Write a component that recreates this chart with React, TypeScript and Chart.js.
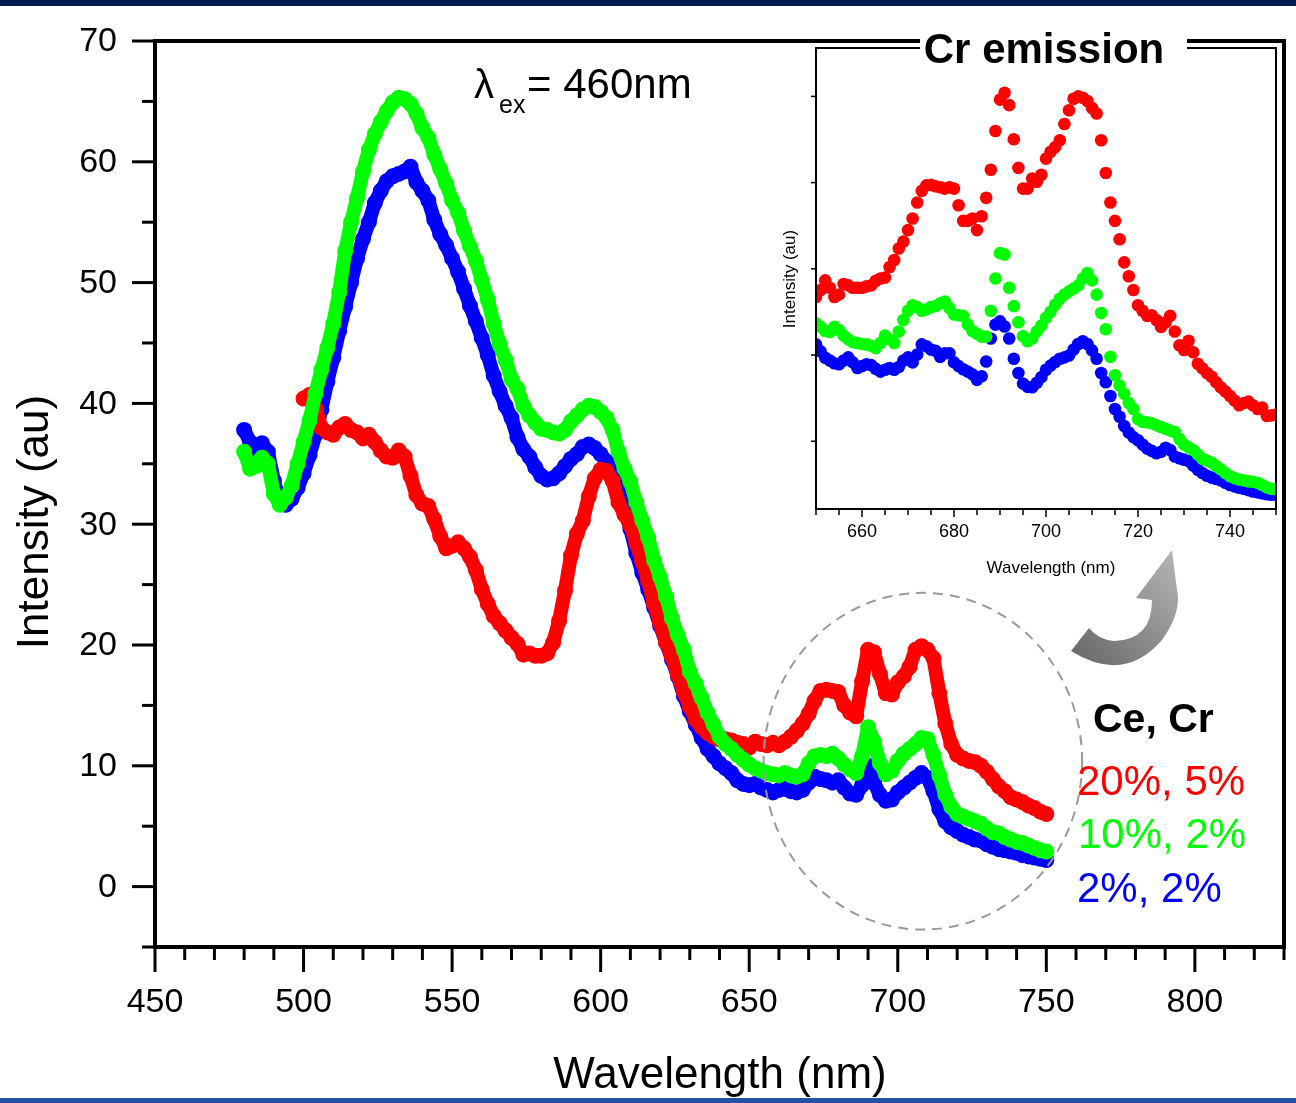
import React, { useEffect, useRef } from 'react';
import { Chart, registerables } from 'chart.js';

Chart.register(...registerables);

// ---------- main spectrum data (wavelength in nm, intensity in au) ----------
const WAVELENGTH = [
  480, 482, 484, 486, 488, 490, 492, 494, 496, 498,
  500, 502, 504, 506, 508, 510, 512, 514, 516, 518,
  520, 522, 524, 526, 528, 530, 532, 534, 536, 538,
  540, 542, 544, 546, 548, 550, 552, 554, 556, 558,
  560, 562, 564, 566, 568, 570, 572, 574, 576, 578,
  580, 582, 584, 586, 588, 590, 592, 594, 596, 598,
  600, 602, 604, 606, 608, 610, 612, 614, 616, 618,
  620, 622, 624, 626, 628, 630, 632, 634, 636, 638,
  640, 642, 644, 646, 648, 650, 652, 654, 656, 658,
  660, 662, 664, 666, 668, 670, 672, 674, 676, 678,
  680, 682, 684, 686, 688, 690, 692, 694, 696, 698,
  700, 702, 704, 706, 708, 710, 712, 714, 716, 718,
  720, 722, 724, 726, 728, 730, 732, 734, 736, 738,
  740, 742, 744, 746, 748, 750,
];

// Ce 2%, Cr 2%
const BLUE = [
  37.8, 36.8, 36.2, 36.7, 36.0, 33.6, 31.8, 31.6, 32.1, 33.0,
  34.2, 35.7, 37.4, 39.5, 41.8, 43.8, 46.0, 48.0, 50.0, 52.0,
  53.6, 55.0, 56.6, 57.6, 58.4, 58.8, 59.0, 59.2, 59.6, 58.3,
  57.6, 56.8, 55.2, 54.0, 53.1, 52.0, 50.9, 49.5, 48.1, 46.8,
  45.4, 44.0, 42.3, 41.0, 39.8, 38.8, 37.2, 36.2, 35.6, 34.7,
  34.0, 33.7, 33.8, 34.2, 34.8, 35.4, 35.8, 36.4, 36.6, 36.3,
  35.8, 35.2, 34.2, 32.8, 31.2, 29.6, 27.6, 26.0, 24.6, 23.1,
  21.6, 20.2, 18.8, 17.4, 15.8, 14.5, 13.4, 12.3, 11.4, 10.8,
  10.2, 9.8, 9.4, 8.8, 8.5, 8.4, 8.5, 8.2, 8.0, 7.8,
  8.0, 8.1, 7.9, 7.8, 8.0, 8.6, 9.1, 8.9, 8.8, 8.6,
  8.8, 8.2, 7.7, 7.6, 8.4, 10.0, 8.6, 7.6, 7.1, 7.2,
  7.8, 8.2, 8.6, 9.0, 9.4, 9.0, 7.9, 6.4, 5.4, 4.9,
  4.6, 4.3, 4.1, 3.9, 3.8, 3.5, 3.3, 3.1, 3.0, 2.9,
  2.8, 2.6, 2.5, 2.4, 2.3, 2.2,
];

// Ce 10%, Cr 2%
const GREEN = [
  36.0, 34.6, 34.8, 35.5, 35.0, 32.5, 31.6, 32.2, 33.2, 35.0,
  36.8, 38.6, 40.8, 42.8, 44.6, 46.6, 49.2, 52.6, 55.0, 57.0,
  59.2, 61.0, 62.3, 63.3, 64.2, 64.9, 65.3, 65.2, 64.8, 64.0,
  62.8, 62.0, 60.6, 59.4, 58.2, 56.8, 55.8, 54.3, 53.0, 51.8,
  50.2, 48.6, 46.6, 44.9, 43.6, 42.0, 41.2, 39.8, 39.0, 38.4,
  37.9, 37.8, 37.6, 37.5, 37.8, 38.5, 39.0, 39.5, 39.8, 39.7,
  39.3, 38.8, 37.8, 36.0, 34.6, 33.5, 31.8, 30.3, 28.9, 27.0,
  25.6, 24.0, 22.2, 20.8, 19.6, 17.8, 16.8, 15.6, 14.4, 13.4,
  12.4, 11.8, 11.4, 10.9, 10.5, 10.1, 9.8, 9.6, 9.4, 9.3,
  9.2, 9.4, 9.2, 9.1, 9.3, 10.2, 10.8, 10.9, 10.8, 11.0,
  10.6, 10.1, 9.7, 9.4, 10.8, 13.2, 12.0, 10.2, 9.3, 9.6,
  10.4, 11.0, 11.4, 11.8, 12.3, 12.2, 10.9, 9.2, 7.6, 6.6,
  6.0, 5.8, 5.6, 5.4, 5.2, 4.8, 4.5, 4.4, 4.1, 3.9,
  3.7, 3.6, 3.4, 3.2, 3.0, 2.9,
];

// Ce 20%, Cr 5% (no data below 500 nm)
const RED = [
  null, null, null, null, null, null, null, null, null, null,
  40.4, 40.7, 39.6, 38.0, 37.6, 37.4, 38.0, 38.3, 37.8, 37.6,
  37.1, 37.4, 36.8, 36.1, 35.6, 35.5, 36.1, 35.6, 34.0, 32.4,
  31.7, 31.5, 30.4, 29.0, 28.0, 28.2, 28.5, 28.0, 27.3, 26.2,
  24.6, 23.4, 22.4, 21.8, 21.2, 20.6, 20.1, 19.2, 19.3, 19.1,
  19.1, 19.3, 20.2, 22.0, 24.5, 27.4, 29.2, 30.3, 32.3, 33.8,
  34.5, 34.4, 33.6, 31.8, 30.8, 29.9, 28.4, 26.9, 25.3, 23.4,
  21.8, 20.2, 19.0, 17.5, 16.1, 14.9, 13.8, 13.2, 12.7, 12.4,
  12.2, 12.2, 12.1, 11.9, 11.8, 11.5, 12.0, 11.8, 11.7, 11.9,
  11.7, 12.0, 12.4, 12.9, 13.5, 14.3, 15.4, 16.2, 16.3, 16.2,
  16.1, 15.0, 14.4, 14.1, 17.0, 19.6, 19.4, 17.6, 16.0, 15.9,
  16.9, 17.4, 18.2, 19.6, 19.9, 19.6, 18.9, 16.0, 13.5, 11.8,
  10.9, 10.6, 10.4, 10.3, 10.0, 9.5, 8.9, 8.3, 7.9, 7.4,
  7.2, 7.0, 6.7, 6.5, 6.2, 6.0,
];

// ---------- inset (Cr emission) data, arbitrary units ----------
const INSET_WAVELENGTH = [
  650, 651, 652, 653, 654, 655, 656, 657, 658, 659,
  660, 661, 662, 663, 664, 665, 666, 667, 668, 669,
  670, 671, 672, 673, 674, 675, 676, 677, 678, 679,
  680, 681, 682, 683, 684, 685, 686, 687, 688, 689,
  690, 691, 692, 693, 694, 695, 696, 697, 698, 699,
  700, 701, 702, 703, 704, 705, 706, 707, 708, 709,
  710, 711, 712, 713, 714, 715, 716, 717, 718, 719,
  720, 721, 722, 723, 724, 725, 726, 727, 728, 729,
  730, 731, 732, 733, 734, 735, 736, 737, 738, 739,
  740, 741, 742, 743, 744, 745, 746, 747, 748, 749,
  750,
];

const INSET_RED = [
  46, 47.5, 49.6, 48, 46, 46.5, 48.8, 48.5, 48, 48,
  48, 48.3, 48.5, 49.5, 50, 50.2, 52.5, 54, 56.5, 58,
  60.5, 63, 66.5, 69, 70.2, 70.3, 70, 69.8, 69.5, 69.8,
  69.5, 65.9, 62.5, 62.5, 63, 60.5, 63.5, 67.5, 73.6, 82,
  88.8, 90.3, 87.6, 80.2, 74, 69.5, 69.5, 71.7, 71, 72.5,
  76, 77.5, 78.5, 80, 83.5, 86.5, 89, 89.5, 89.2, 88.5,
  87, 85.8, 80, 72.9, 66.5, 62.5, 58.5, 53.5, 50.5, 47.5,
  44.2, 43, 41.9, 42, 41, 39.5, 40.5, 41.9, 38.5, 35.5,
  34.5, 36.5, 34, 31.5, 30.5, 29.5, 28.7, 27.5, 26.4, 25.5,
  24.5, 23.5, 22.5, 23, 23.3, 22.5, 21.7, 22, 20.2, 20.3,
  20.5,
];

const INSET_GREEN = [
  40.3, 39.5, 38.6, 38.4, 39.5, 38.8, 37.6, 36.8, 36.2, 36,
  35.8, 35.7, 35.4, 34.9, 36, 37.6, 36.8, 36, 38.5, 41,
  43, 44.2, 43.8, 43, 43.3, 43.8, 44, 44.6, 45, 43.6,
  42.2, 42, 41.9, 40, 38.6, 38, 37.4, 37.4, 43, 50,
  55.5, 55.2, 48, 44, 40.5, 37.5, 36.4, 37, 38.5, 39.8,
  41.5, 42.8, 44.3, 45.6, 46.5, 47.2, 47.8, 48.5, 50, 51.2,
  49.6, 46.5, 42.5, 39, 33, 29, 26.8, 25, 23, 21.7,
  19.5, 18.9, 18.8, 18.6, 18.2, 17.8, 17.4, 17, 16.7, 15.2,
  14, 13.4, 12.8, 11.8, 10.9, 10.5, 10.1, 9.3, 8.6, 7.8,
  7.1, 6.7, 6.4, 6.2, 6, 5.9, 5.7, 5.2, 4.7, 4.4,
  4.3,
];

const INSET_BLUE = [
  35.7, 34.2, 32.8, 32.2, 31.6, 31.4, 32.2, 32.9, 31.8, 30.6,
  31, 31.4, 31.2, 30.4, 29.8, 30.2, 30.6, 30.2, 30.8, 32.2,
  32.9, 31.8, 33.5, 35.7, 35.3, 34.6, 34.3, 33, 33.8, 33.8,
  31.8, 31, 30.3, 29.8, 29.2, 28, 28.8, 32, 37, 40,
  40.7, 39.6, 37, 32.6, 29.5, 27.2, 26.5, 26.4, 27.4, 28.6,
  30.2, 31.1, 31.9, 32.6, 32.9, 33.3, 34.6, 35.8, 36.4, 35.8,
  34.4, 32.6, 29.5, 27.5, 24.5, 21.7, 20, 18, 16.6, 15.6,
  14.9, 14, 13.1, 12.6, 12.1, 12.4, 13.3, 12.8, 11.4, 11,
  10.7, 10.4, 9.4, 8.5, 7.8, 7.2, 6.8, 6.5, 6.2, 5.7,
  5.2, 4.9, 4.6, 4.4, 4.1, 3.8, 3.6, 3.4, 3.2, 3.1,
  3.1,
];

// ---------- ticks & labels ----------
const X_LABELS = [450, 500, 550, 600, 650, 700, 750, 800];
const X_TICKS = [
  450, 460, 470, 480, 490, 500, 510, 520, 530, 540, 550, 560, 570, 580, 590,
  600, 610, 620, 630, 640, 650, 660, 670, 680, 690, 700, 710, 720, 730, 740,
  750, 760, 770, 780, 790, 800, 810, 820, 830,
];
const Y_LABELS = [0, 10, 20, 30, 40, 50, 60, 70];
const Y_MINOR = [-5, 5, 15, 25, 35, 45, 55, 65];
const INSET_X_LABELS = [660, 680, 700, 720, 740];
const INSET_X_TICKS = [
  650, 655, 660, 665, 670, 675, 680, 685, 690, 695, 700, 705, 710, 715, 720,
  725, 730, 735, 740, 745, 750,
];
const INSET_Y_TICKS = [14.7, 33.4, 52.1, 70.8, 89.5];

const SERIES_LABELS = ['20%, 5%', '10%, 2%', '2%, 2%'];
const COLORS = { red: '#ff0000', green: '#00ff00', blue: '#0000ff' };

const FONT = '"Liberation Sans", Arial, Helvetica, sans-serif';

const W = 1296;
const H = 1103;
const INSET_LEFT = 760;
const INSET_TOP = 20;
const INSET_W = 536;
const INSET_H = 580;

function toPoints(xs: number[], ys: (number | null)[]) {
  const out: { x: number; y: number }[] = [];
  xs.forEach((x, i) => {
    const y = ys[i];
    if (y !== null && y !== undefined) out.push({ x, y });
  });
  return out;
}

function line(ctx: CanvasRenderingContext2D, x1: number, y1: number, x2: number, y2: number) {
  ctx.beginPath();
  ctx.moveTo(x1, y1);
  ctx.lineTo(x2, y2);
  ctx.stroke();
}

const mainDecor = {
  id: 'mainDecor',
  beforeDraw(chart: any) {
    const { ctx, width, height } = chart;
    ctx.save();
    ctx.fillStyle = '#ffffff';
    ctx.fillRect(0, 0, width, height);
    ctx.fillStyle = '#001b50';
    ctx.fillRect(0, 0, width, 6);
    ctx.fillStyle = '#2352a0';
    ctx.fillRect(0, height - 5, width, 5);
    ctx.restore();
  },
  afterDatasetsDraw(chart: any) {
    const { ctx, chartArea: a } = chart;
    const xs = chart.scales.x;
    const ys = chart.scales.y;
    ctx.save();

    // dashed ellipse around the Cr emission region
    const cx = xs.getPixelForValue(708.45);
    const cy = ys.getPixelForValue(10.38);
    const rx = xs.getPixelForValue(708.45 + 53.6) - cx;
    const ry = cy - ys.getPixelForValue(10.38 + 13.94);
    ctx.strokeStyle = '#9a9a9a';
    ctx.lineWidth = 2;
    ctx.setLineDash([10, 7]);
    ctx.beginPath();
    ctx.ellipse(cx, cy, rx, ry, 0, 0, Math.PI * 2);
    ctx.stroke();
    ctx.setLineDash([]);

    // curved arrow pointing to the inset
    const grad = ctx.createLinearGradient(1071, 655, 1172, 551);
    grad.addColorStop(0, '#6a6a6a');
    grad.addColorStop(1, '#b4b4b4');
    ctx.fillStyle = grad;
    ctx.beginPath();
    ctx.moveTo(1071, 651);
    ctx.quadraticCurveTo(1124, 684, 1162, 640);
    ctx.quadraticCurveTo(1182, 612, 1177, 590);
    ctx.lineTo(1172, 550);
    ctx.lineTo(1136, 598);
    ctx.lineTo(1152, 600);
    ctx.quadraticCurveTo(1152, 640, 1114, 641);
    ctx.quadraticCurveTo(1099, 640, 1089, 628);
    ctx.closePath();
    ctx.fill();

    // frame
    ctx.strokeStyle = '#000';
    ctx.lineWidth = 4;
    ctx.strokeRect(a.left, a.top, a.right - a.left, a.bottom - a.top);

    // x ticks
    ctx.lineWidth = 3;
    X_TICKS.forEach((v) => {
      const px = xs.getPixelForValue(v);
      const len = X_LABELS.includes(v) ? 25 : 13;
      line(ctx, px, a.bottom, px, a.bottom + len);
    });
    // y ticks
    Y_LABELS.forEach((v) => {
      const py = ys.getPixelForValue(v);
      line(ctx, a.left, py, a.left - 23, py);
    });
    Y_MINOR.forEach((v) => {
      const py = ys.getPixelForValue(v);
      line(ctx, a.left, py, a.left - 13, py);
    });

    // tick labels
    ctx.fillStyle = '#000';
    ctx.font = `34px ${FONT}`;
    ctx.textAlign = 'center';
    ctx.textBaseline = 'middle';
    X_LABELS.forEach((v) => {
      ctx.fillText(String(v), xs.getPixelForValue(v), a.bottom + 56);
    });
    ctx.textAlign = 'right';
    Y_LABELS.forEach((v) => {
      ctx.fillText(String(v), a.left - 38, ys.getPixelForValue(v) + 1);
    });

    // axis titles
    ctx.font = `44px ${FONT}`;
    ctx.textAlign = 'center';
    ctx.textBaseline = 'alphabetic';
    ctx.fillText('Wavelength (nm)', 720, 1088);
    ctx.save();
    ctx.translate(48, 522);
    ctx.rotate(-Math.PI / 2);
    ctx.fillText('Intensity (au)', 0, 0);
    ctx.restore();

    // excitation wavelength
    ctx.textAlign = 'left';
    ctx.font = `40px ${FONT}`;
    ctx.fillText('\u03bb', 474, 98);
    ctx.font = `25px ${FONT}`;
    ctx.fillText('ex', 499, 113);
    ctx.font = `42px ${FONT}`;
    ctx.fillText('= 460nm', 527, 98);

    // legend text
    ctx.font = `bold 41px ${FONT}`;
    ctx.fillText('Ce, Cr', 1093, 732);
    ctx.font = `42px ${FONT}`;
    ctx.fillStyle = COLORS.red;
    ctx.fillText(SERIES_LABELS[0], 1077, 795);
    ctx.fillStyle = COLORS.green;
    ctx.fillText(SERIES_LABELS[1], 1078, 848);
    ctx.fillStyle = COLORS.blue;
    ctx.fillText(SERIES_LABELS[2], 1077, 902);

    ctx.restore();
  },
};

const insetDecor = {
  id: 'insetDecor',
  afterDatasetsDraw(chart: any) {
    const { ctx, chartArea: a } = chart;
    const xs = chart.scales.x;
    const ys = chart.scales.y;
    ctx.save();
    ctx.strokeStyle = '#000';
    ctx.lineWidth = 2;
    ctx.strokeRect(a.left, a.top, a.right - a.left, a.bottom - a.top);

    ctx.lineWidth = 1.5;
    INSET_X_TICKS.forEach((v) => {
      const px = xs.getPixelForValue(v);
      const len = INSET_X_LABELS.includes(v) ? 8 : 6;
      line(ctx, px, a.bottom, px, a.bottom + len);
    });
    INSET_Y_TICKS.forEach((v) => {
      const py = ys.getPixelForValue(v);
      line(ctx, a.left, py, a.left - 5, py);
    });

    ctx.fillStyle = '#000';
    ctx.font = `18px ${FONT}`;
    ctx.textAlign = 'center';
    ctx.textBaseline = 'middle';
    INSET_X_LABELS.forEach((v) => {
      ctx.fillText(String(v), xs.getPixelForValue(v), a.bottom + 23);
    });
    ctx.font = `17px ${FONT}`;
    ctx.fillText('Wavelength (nm)', 1051 - INSET_LEFT, 568 - INSET_TOP);
    ctx.save();
    ctx.translate(790 - INSET_LEFT, 279 - INSET_TOP);
    ctx.rotate(-Math.PI / 2);
    ctx.font = `17px ${FONT}`;
    ctx.fillText('Intensity (au)', 0, 0);
    ctx.restore();

    // title with white knock-out over the frame lines
    ctx.fillStyle = '#ffffff';
    ctx.fillRect(920 - INSET_LEFT, 30 - INSET_TOP, 267, 24);
    ctx.fillStyle = '#000';
    ctx.font = `bold 42px ${FONT}`;
    ctx.textBaseline = 'alphabetic';
    ctx.fillText('Cr emission', 1044 - INSET_LEFT, 63 - INSET_TOP);
    ctx.restore();
  },
};

function mainDataset(ys: (number | null)[], color: string) {
  return {
    data: toPoints(WAVELENGTH, ys),
    showLine: true,
    borderColor: color,
    backgroundColor: color,
    borderWidth: 14,
    borderJoinStyle: 'round' as const,
    borderCapStyle: 'round' as const,
    pointRadius: 8,
    pointHoverRadius: 8,
    pointBorderWidth: 0,
    tension: 0,
    clip: false as const,
  };
}

function insetDataset(ys: number[], color: string) {
  return {
    data: toPoints(INSET_WAVELENGTH, ys),
    showLine: false,
    borderColor: color,
    backgroundColor: color,
    pointRadius: 6.3,
    pointHoverRadius: 6.3,
    pointBorderWidth: 0,
    clip: 0,
  };
}

export default function App() {
  const mainRef = useRef<HTMLCanvasElement | null>(null);
  const insetRef = useRef<HTMLCanvasElement | null>(null);

  useEffect(() => {
    document.body.style.margin = '0';
    if (!mainRef.current || !insetRef.current) return;

    const main = new Chart(mainRef.current, {
      type: 'scatter',
      data: {
        datasets: [
          mainDataset(GREEN, COLORS.green),
          mainDataset(RED, COLORS.red),
          mainDataset(BLUE, COLORS.blue),
        ] as any,
      },
      options: {
        responsive: false,
        maintainAspectRatio: false,
        animation: false,
        events: [],
        layout: { padding: { left: 155, right: 12, top: 41, bottom: 156 } },
        plugins: { legend: { display: false }, tooltip: { enabled: false } },
        scales: {
          x: { type: 'linear', min: 450, max: 830, display: false },
          y: { type: 'linear', min: -5, max: 70, display: false },
        },
      },
      plugins: [mainDecor],
    });

    const inset = new Chart(insetRef.current, {
      type: 'scatter',
      data: {
        datasets: [
          insetDataset(INSET_GREEN, COLORS.green),
          insetDataset(INSET_RED, COLORS.red),
          insetDataset(INSET_BLUE, COLORS.blue),
        ] as any,
      },
      options: {
        responsive: false,
        maintainAspectRatio: false,
        animation: false,
        events: [],
        layout: {
          padding: {
            left: 816 - INSET_LEFT,
            right: INSET_LEFT + INSET_W - 1276,
            top: 48 - INSET_TOP,
            bottom: INSET_TOP + INSET_H - 509,
          },
        },
        plugins: { legend: { display: false }, tooltip: { enabled: false } },
        scales: {
          x: { type: 'linear', min: 650, max: 750, display: false },
          y: { type: 'linear', min: 0, max: 100, display: false },
        },
      },
      plugins: [insetDecor],
    });

    return () => {
      main.destroy();
      inset.destroy();
    };
  }, []);

  return (
    <div style={{ position: 'relative', width: W, height: H, overflow: 'hidden' }}>
      <canvas
        ref={mainRef}
        width={W}
        height={H}
        style={{ position: 'absolute', left: 0, top: 0, width: W, height: H }}
      />
      <canvas
        ref={insetRef}
        width={INSET_W}
        height={INSET_H}
        style={{ position: 'absolute', left: INSET_LEFT, top: INSET_TOP, width: INSET_W, height: INSET_H }}
      />
    </div>
  );
}
